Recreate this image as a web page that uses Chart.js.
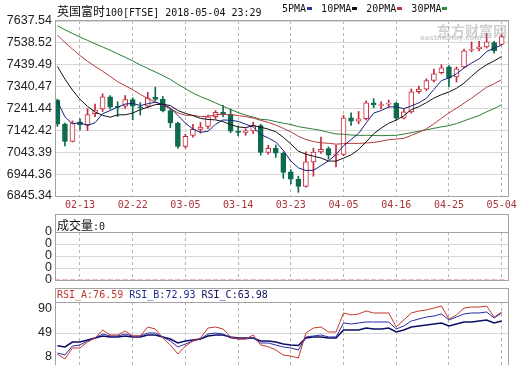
<!DOCTYPE html>
<html>
<head>
<meta charset="utf-8">
<script src="https://cdn.jsdelivr.net/npm/chart.js@4.4.1/dist/chart.umd.min.js"></script>
<style>
body { margin: 0; background: #fff; width: 520px; height: 365px; position: relative; overflow: hidden; }
canvas { position: absolute; left: 0; }
.t { position: absolute; white-space: pre; font: 10px "DejaVu Sans Mono", monospace; line-height: 14px; color: #111; }
.c { font: 12px "Noto Sans CJK SC", sans-serif; }
.t i { display: inline-block; width: 5px; height: 3px; vertical-align: middle; margin: 0 3px 1px 1px; }
.box { position: absolute; border: 1px solid #a4a4a4; box-sizing: border-box; }
.sep { position: absolute; left: 55px; width: 454px; height: 1px; background: #a4a4a4; }
</style>
</head>
<body>
<canvas id="kline" width="520" height="215" style="top:0"></canvas>
<canvas id="vol" width="520" height="76" style="top:218px"></canvas>
<canvas id="rsi" width="520" height="90" style="top:288px"></canvas>

<div class="box" style="left:55px;top:20px;width:454px;height:177px"></div>
<div class="box" style="left:55px;top:214px;width:454px;height:67px"></div>
<div class="sep" style="top:232px"></div>
<div class="box" style="left:55px;top:288px;width:454px;height:90px"></div>
<div class="sep" style="top:302px"></div>

<div class="t" style="left:57px;top:2px"><span class="c">英国富时</span>100[FTSE] 2018-05-04 23:29</div>
<div class="t" style="left:282px;top:2px">5PMA<i style="background:#2a3a9a"></i> 10PMA<i style="background:#111"></i> 20PMA<i style="background:#c0343c"></i> 30PMA<i style="background:#2e8b3e"></i></div>
<div class="t" style="left:437px;top:20px;font:bold 14px 'Noto Sans CJK SC';color:rgba(150,150,150,0.45)">东方财富网</div>
<div class="t" style="left:420px;top:34px;font:bold 7px 'DejaVu Sans';color:rgba(150,150,150,0.45)">eastmoney.com</div>
<div class="t" style="left:57px;top:216px"><span class="c">成交量</span>:0</div>
<div class="t" style="left:57px;top:288px"><span style="color:#c0392b">RSI_A:76.59</span> <span style="color:#1c2a90">RSI_B:72.93</span> <span style="color:#101060">RSI_C:63.98</span></div>

<script>
// 日线数据 (读自图片)
const dates = ['02-08','02-09','02-12','02-13','02-14','02-15','02-16','02-19','02-20','02-21',
  '02-22','02-23','02-26','02-27','02-28','03-01','03-02','03-05','03-06','03-07',
  '03-08','03-09','03-12','03-13','03-14','03-15','03-16','03-19','03-20','03-21',
  '03-22','03-23','03-26','03-27','03-28','03-29','04-03','04-04','04-05','04-06',
  '04-09','04-10','04-11','04-12','04-13','04-16','04-17','04-18','04-19','04-20',
  '04-23','04-24','04-25','04-26','04-27','04-30','05-01','05-02','05-03','05-04'];
const opens = [7279.4,7170.7,7092.4,7181,7168.0,7218,7240,7294.7,7250,7252,
  7281.6,7248,7252,7292,7282.5,7231.9,7175.6,7070,7120,7147,
  7160,7205,7225,7214.8,7139,7133,7140,7164.1,7043,7061.3,
  7039,6955,6922,6889,7000,7045,7060,7030,7034,7199.5,
  7184,7195,7267,7255,7261,7264.6,7198,7226,7318,7329,
  7368,7404,7430,7384,7430,7505,7512,7520,7540,7532];
const highs = [7284,7175,7185,7195,7240,7262,7308,7300,7272,7300,
  7290,7268,7315,7338,7296,7238,7180,7125,7170,7178,
  7212,7232,7256,7240,7160,7150,7180,7170,7075,7076,
  7045,6965,6935,7045,7062,7112,7068,7076,7210,7222,
  7228,7276,7286,7272,7280,7270,7238,7330,7343,7376,
  7420,7440,7436,7430,7510,7543,7546,7582,7546,7576];
const lows = [7160,7072,7090,7145,7142,7205,7228,7238,7205,7242,
  7190,7212,7245,7275,7226,7155,7062,7062,7112,7130,
  7150,7195,7205,7132,7118,7120,7128,7030,7035,7020,
  6925,6900,6862,6885,6935,7038,7012,6977,7028,7165,
  7172,7190,7245,7240,7248,7188,7194,7220,7310,7322,
  7362,7398,7340,7361,7425,7498,7502,7515,7492,7530];
const closes = [7170.7,7092.4,7177.1,7168.0,7214.0,7234.8,7294.7,7247.7,7246.8,7281.6,
  7252.4,7244.0,7289.6,7282.5,7231.9,7175.6,7069.9,7116.0,7146.8,7157.8,
  7203.2,7224.5,7214.8,7138.8,7132.7,7139.8,7164.1,7042.9,7061.3,7039.0,
  6952.6,6921.9,6888.7,7000.1,7044.7,7056.6,7030.5,7034.0,7199.5,7183.6,
  7194.8,7266.8,7257.1,7258.3,7264.6,7198.2,7226.1,7317.3,7328.9,7368.2,
  7398.9,7425.4,7379.3,7421.4,7502.2,7509.3,7520.4,7543.2,7502.7,7567.1];

const ma5 = [7273.8,7203.6,7172.0,7177.4,7164.4,7177.2,7217.8,7232.0,7247.8,7261.4,
  7264.8,7254.6,7263.0,7270.0,7260.0,7244.8,7210.0,7175.2,7148.2,7133.4,
  7138.8,7169.8,7189.6,7188.0,7183.0,7170.4,7158.2,7123.8,7108.2,7089.4,
  7052.0,7003.6,6972.8,6960.6,6961.8,6982.6,7004.2,7033.2,7073.2,7101.0,
  7128.6,7176.0,7220.6,7232.2,7248.4,7249.0,7240.8,7252.8,7267.0,7287.6,
  7327.8,7367.6,7380.0,7398.4,7425.2,7447.2,7466.2,7499.0,7515.4,7528.4];
const ma10 = [7431.9,7374.5,7325.0,7283.0,7251.0,7225.5,7210.7,7202.0,7212.6,7212.9,
  7221.0,7236.2,7247.5,7258.9,7260.7,7254.8,7232.3,7219.1,7209.1,7196.7,
  7191.8,7189.9,7182.4,7168.1,7158.2,7154.6,7164.0,7156.7,7148.1,7136.2,
  7111.2,7080.9,7048.3,7034.4,7025.6,7017.3,7003.9,7003.0,7016.9,7031.4,
  7055.6,7090.1,7126.9,7152.7,7174.7,7188.8,7208.4,7236.7,7249.6,7268.0,
  7288.4,7304.2,7316.4,7332.7,7356.4,7387.5,7416.9,7439.5,7456.9,7476.8];
const ma20 = [7574.3,7540.0,7510.4,7481.0,7455.4,7432.1,7410.3,7387.0,7362.7,7344.7,
  7326.5,7305.4,7286.3,7271.0,7255.9,7240.2,7221.5,7210.6,7210.9,7204.8,
  7206.4,7213.1,7215.0,7213.5,7209.5,7204.7,7198.2,7187.9,7178.6,7166.5,
  7151.5,7135.4,7115.4,7101.3,7091.9,7086.0,7084.0,7079.9,7082.5,7083.8,
  7083.4,7085.5,7087.6,7093.6,7100.2,7103.1,7106.2,7119.9,7133.3,7149.7,
  7172.0,7197.2,7221.7,7242.7,7265.6,7288.2,7312.7,7338.1,7353.3,7372.4];
const ma30 = [7615.9,7598.2,7581.1,7565.1,7549.9,7534.5,7520.2,7505.3,7489.1,7473.6,
  7456.5,7438.7,7422.7,7406.9,7390.5,7373.0,7351.0,7331.0,7311.5,7295.3,
  7281.6,7266.9,7251.6,7236.7,7223.3,7211.6,7202.3,7192.6,7189.9,7181.9,
  7174.7,7169.0,7159.4,7153.8,7148.2,7142.2,7133.4,7126.3,7124.7,7121.4,
  7119.5,7120.3,7119.2,7118.4,7119.5,7120.2,7125.4,7132.1,7138.2,7145.2,
  7151.7,7158.4,7163.9,7173.3,7185.6,7197.9,7209.7,7226.4,7241.1,7258.7];

const volume = [0,0,0,0,0,0,0,0,0,0, 0,0,0,0,0,0,0,0,0,0, 0,0,0,0,0,0,0,0,0,0,
  0,0,0,0,0,0,0,0,0,0, 0,0,0,0,0,0,0,0,0,0, 0,0,0,0,0,0,0,0,0,0];

const rsiA = [13.1,4.6,23.4,23.4,33.6,40.5,54.1,45.6,45.6,52.4,
  43.9,43.9,59.3,55.8,40.5,28.5,13.1,26.8,35.3,40.5,
  57.5,59.3,55.8,42.2,38.8,38.8,45.6,28.5,25.6,20.0,
  11.4,9.7,6.3,49.0,57.5,59.3,50.7,50.7,83.2,79.8,
  81.5,86.6,83.2,83.2,83.2,59.3,71.2,83.2,86.6,88.3,
  91.7,95.1,72.9,79.8,91.7,93.4,93.4,95.1,76.3,84.9];
const rsiB = [14.8,11.4,26.8,28.5,35.3,40.5,47.3,43.9,43.9,47.3,
  43.9,43.9,49.0,49.0,42.2,35.3,25.1,30.2,35.3,38.8,
  47.3,49.0,47.3,40.5,38.8,38.8,40.5,31.9,31.9,28.5,
  25.1,23.4,20.0,42.2,43.9,45.6,42.2,42.2,66.1,64.4,
  66.1,67.8,67.8,67.8,67.8,55.8,61.0,69.5,72.9,76.3,
  78.0,81.5,71.2,76.3,81.5,83.2,83.2,84.9,74.6,83.2];
const rsiC = [27.3,25.1,33.6,33.6,37.1,40.5,43.9,42.2,42.2,43.9,
  42.2,42.2,45.6,45.6,42.2,38.8,31.9,35.3,37.1,38.8,
  43.9,45.6,45.6,42.2,40.5,40.5,40.5,35.3,35.3,33.6,
  30.2,28.5,27.7,40.5,42.2,42.2,40.5,40.5,54.1,54.1,
  54.1,57.5,55.8,55.8,57.5,50.7,54.1,59.3,61.0,62.7,
  64.4,66.1,61.0,64.4,67.8,67.8,69.5,71.2,66.1,69.5];

const yTickLabels = ['6845.34','6944.36','7043.39','7142.42','7241.44','7340.47','7439.49','7538.52','7637.54'];
const xTickLabels = ['02-13','02-22','03-05','03-14','03-23','04-05','04-16','04-25','05-04'];
const volTickLabels = ['0','0','0','0','0'];
const rsiTickLabels = ['8','49','90'];

const UP = '#c8283c', DOWN = '#0e6b4e';
const xIdx = xTickLabels.map(l => dates.indexOf(l));
const pts = arr => arr.map((v, i) => ({ x: i, y: v }));
const isUp = i => closes[i] >= opens[i];
const tickFont = { family: '"Liberation Sans"', size: 12.5 };

function xScale(showLabels) {
    return {
        type: 'linear', min: -0.32, max: 59.84, offset: false,
        afterBuildTicks: s => { s.ticks = xIdx.map(v => ({ value: v })); },
        afterFit: s => { s.height = showLabels ? 19 : 0; },
        ticks: {
            display: showLabels, autoSkip: false, maxRotation: 0, padding: 3,
            color: '#a8343c', font: { family: '"DejaVu Sans Mono"', size: 10 },
            callback: v => dates[v]
        },
        grid: { color: '#b4b4b4', drawTicks: false, offset: false },
        border: { display: false, dash: [3, 3] }
    };
}

function yScale(min, max, labels, gridColor) {
    return {
        min: min, max: max,
        afterBuildTicks: s => { s.ticks = labels.map((l, i) => ({ value: labels === volTickLabels ? i : Number(l) })); },
        afterFit: s => { s.width = 55; },
        ticks: { padding: 3, autoSkip: false, color: '#222', font: tickFont, callback: (v, i) => labels[i] },
        grid: { color: gridColor, drawTicks: false },
        border: { display: false }
    };
}

function lineSet(label, arr, color, width) {
    return { type: 'line', label: label, data: pts(arr), borderColor: color, borderWidth: width,
        pointRadius: 0, tension: 0, order: 0 };
}

const common = {
    responsive: false, animation: false, devicePixelRatio: 1,
    plugins: { legend: { display: false }, tooltip: { enabled: false } }
};

new Chart(document.getElementById('kline'), {
    type: 'bar',
    data: {
        datasets: [
            lineSet('5PMA', ma5, '#1b1f7e', 1),
            lineSet('10PMA', ma10, '#111111', 1),
            lineSet('20PMA', ma20, '#b83a3a', 1),
            lineSet('30PMA', ma30, '#2e7d32', 1),
            {
                label: 'body', order: 1, grouped: false, barThickness: 5, minBarLength: 1,
                data: dates.map((d, i) => ({ x: i, y: [opens[i], closes[i]] })),
                backgroundColor: dates.map((d, i) => isUp(i) ? '#ffffff' : DOWN),
                borderColor: dates.map((d, i) => isUp(i) ? UP : DOWN),
                borderWidth: 1, borderSkipped: false
            },
            {
                label: 'wick', order: 2, grouped: false, barThickness: 1,
                data: dates.map((d, i) => ({ x: i, y: [lows[i], highs[i]] })),
                backgroundColor: dates.map((d, i) => isUp(i) ? UP : DOWN),
                borderWidth: 0
            }
        ]
    },
    options: Object.assign({}, common, {
        layout: { padding: { left: 0, right: 12, top: 21, bottom: 0 } },
        scales: {
            x: xScale(true),
            y: yScale(6845.34, 7637.54, yTickLabels, '#d8d8d8')
        }
    })
});

new Chart(document.getElementById('vol'), {
    type: 'bar',
    data: { datasets: [{ label: '成交量', data: pts(volume), backgroundColor: UP, barThickness: 5 }] },
    options: Object.assign({}, common, {
        layout: { padding: { left: 0, right: 12, top: 14, bottom: 14 } },
        scales: {
            x: xScale(false),
            y: yScale(0, 4, volTickLabels, ctx => (ctx.tick.value === 0 || ctx.tick.value === 4) ? 'rgba(0,0,0,0)' : '#d8d8d8')
        }
    })
});

new Chart(document.getElementById('rsi'), {
    type: 'line',
    data: {
        datasets: [
            lineSet('RSI_A', rsiA, '#c0392b', 1),
            lineSet('RSI_B', rsiB, '#2a2aa8', 1),
            lineSet('RSI_C', rsiC, '#0d0d66', 1.6)
        ]
    },
    options: Object.assign({}, common, {
        layout: { padding: { left: 0, right: 12, top: 14, bottom: 13 } },
        scales: {
            x: xScale(false),
            y: yScale(-5.65, 101.96, rsiTickLabels, ctx => ctx.tick.value === 49 ? '#d8d8d8' : 'rgba(0,0,0,0)')
        }
    })
});
</script>
</body>
</html>
